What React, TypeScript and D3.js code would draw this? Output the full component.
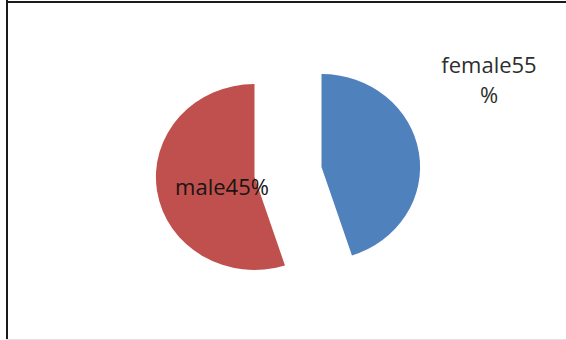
import React from "react";
import * as d3 from "d3";

// Share of respondents by gender (slices run clockwise from 12 o'clock)
const categories = ["male", "female"];
const shares = [45, 55];
const sliceColors = ["#4F81BD", "#C0504D"];

const WIDTH = 566;
const HEIGHT = 340;
const CX = 288;
const CY = 172;
const RADIUS = 93;
const X_STRETCH = 1.06;
const EXPLODE = 32;

export default function App() {
  const pie = d3
    .pie<number>()
    .sort(null)
    .startAngle(0)
    .endAngle(2 * Math.PI)
    .value((d) => d);
  const arcs = pie(shares);
  const arc = d3.arc<d3.PieArcDatum<number>>().innerRadius(0).outerRadius(RADIUS);

  // exploded slices: each one is pushed out along its bisector
  const offset = (a: d3.PieArcDatum<number>) => {
    const mid = (a.startAngle + a.endAngle) / 2;
    return [Math.sin(mid) * EXPLODE, -Math.cos(mid) * EXPLODE];
  };

  const labelText = (i: number) => `${categories[i]}${shares[i]}%`;
  const font = "'Open Sans', 'Noto Sans', sans-serif";

  return (
    <div style={{ position: "absolute", left: 0, top: 0 }}>
      <svg width={WIDTH} height={HEIGHT} style={{ display: "block" }}>
        <rect x={0} y={0} width={WIDTH} height={HEIGHT} fill="#ffffff" />
        {/* frame */}
        <line x1={7} y1={0} x2={7} y2={HEIGHT} stroke="#1a1a1a" strokeWidth={2} />
        <line x1={6} y1={2} x2={WIDTH} y2={2} stroke="#1a1a1a" strokeWidth={2} />
        <line x1={6} y1={339.5} x2={WIDTH} y2={339.5} stroke="#e2e2e2" strokeWidth={1} />

        <g transform={`translate(${CX},${CY}) scale(${X_STRETCH},1)`}>
          {arcs.map((a, i) => {
            const [dx, dy] = offset(a);
            return (
              <path
                key={categories[i]}
                d={arc(a) || ""}
                transform={`translate(${dx},${dy})`}
                fill={sliceColors[i]}
              />
            );
          })}
        </g>

        {/* data labels */}
        <text
          x={222}
          y={195}
          textAnchor="middle"
          fontFamily={font}
          fontSize={22}
          fontWeight={500}
          fill="#1a1414"
        >
          {labelText(0)}
        </text>
        <text
          x={489}
          y={73}
          textAnchor="middle"
          fontFamily={font}
          fontSize={22}
          fontWeight={500}
          fill="#2e2e2e"
        >
          {`${categories[1]}${shares[1]}`}
        </text>
        <text
          x={489}
          y={103}
          textAnchor="middle"
          fontFamily={font}
          fontSize={22}
          fontWeight={500}
          fill="#2e2e2e"
        >
          %
        </text>
      </svg>
    </div>
  );
}
